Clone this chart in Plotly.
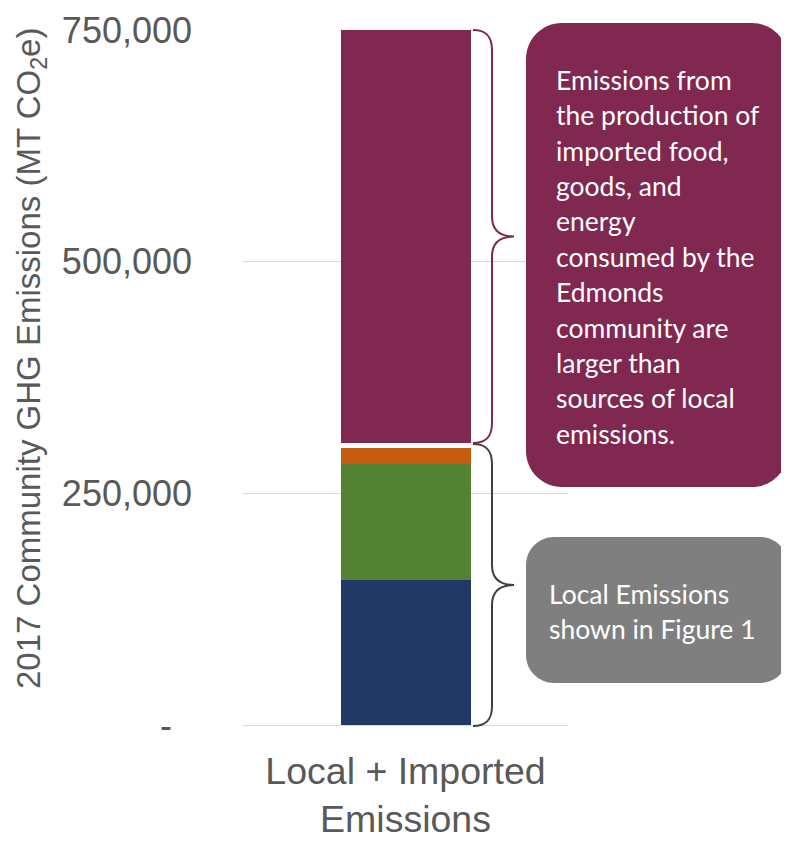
import plotly.graph_objects as go

# ---------------- data ----------------
categories = ["Local + Imported<br>Emissions"]
local_1 = [156500]      # dark blue segment
local_2 = [125000]      # green segment
local_3 = [17500]       # orange segment
separator = [5500]      # white gap between local and imported
imported = [445500]     # imported food, goods & energy
y_tickvals = [0, 250000, 500000, 750000]
y_ticktext = ["-\u00a0\u00a0", "250,000", "500,000", "750,000"]

C_NAVY = "#203864"
C_GREEN = "#548235"
C_ORANGE = "#C55A11"
C_PLUM = "#80284F"
C_GREY = "#7F7F7F"
C_BRACE = "#404040"
C_TEXT = "#595959"
FONT = "Liberation Sans, Arial, sans-serif"

W, H = 789, 842
OFF = 8                              # default page margin around the plot div
PL, PR, PT, PB = 243, 568, 30, 725   # plot area in page pixels


def px(x):
    return (x - PL) / (PR - PL)


def py(y):
    return (PB - y) / (PB - PT)


def P(x, y):
    return f"{px(x):.5f},{py(y):.5f}"


def rrect(x0, y0, x1, y1, r):
    k = 0.5523 * r
    return (f"M {P(x0 + r, y0)} L {P(x1 - r, y0)} "
            f"C {P(x1 - r + k, y0)} {P(x1, y0 + r - k)} {P(x1, y0 + r)} "
            f"L {P(x1, y1 - r)} "
            f"C {P(x1, y1 - r + k)} {P(x1 - r + k, y1)} {P(x1 - r, y1)} "
            f"L {P(x0 + r, y1)} "
            f"C {P(x0 + r - k, y1)} {P(x0, y1 - r + k)} {P(x0, y1 - r)} "
            f"L {P(x0, y0 + r)} "
            f"C {P(x0, y0 + r - k)} {P(x0 + r - k, y0)} {P(x0 + r, y0)} Z")


def brace(top, bottom, xs=473, xl=492, xt=514, r=20):
    tip = (top + bottom) / 2
    return (f"M {P(xs, top)} C {P(xs + 13, top)} {P(xl, top + 6)} {P(xl, top + r)} "
            f"L {P(xl, tip - r)} C {P(xl, tip - 6)} {P(xl + 8, tip)} {P(xt, tip)} "
            f"C {P(xl + 8, tip)} {P(xl, tip + 6)} {P(xl, tip + r)} "
            f"L {P(xl, bottom - r)} C {P(xl, bottom - 6)} {P(xs + 13, bottom)} {P(xs, bottom)}")


fig = go.Figure()
for name, vals, col in [("Local 1", local_1, C_NAVY),
                        ("Local 2", local_2, C_GREEN),
                        ("Local 3", local_3, C_ORANGE),
                        ("gap", separator, "#FFFFFF"),
                        ("Imported", imported, C_PLUM)]:
    fig.add_trace(go.Bar(x=categories, y=vals, name=name, marker_color=col,
                         marker_line_width=0, width=0.4))

fig.update_layout(
    width=W - OFF, height=H - OFF,
    barmode="stack",
    showlegend=False,
    plot_bgcolor="white", paper_bgcolor="white",
    margin=dict(l=PL - OFF, r=W - PR, t=PT - OFF, b=H - PB, autoexpand=False),
    font=dict(family=FONT, color=C_TEXT),
    xaxis=dict(showgrid=False, showline=False, ticks="", ticklabelstandoff=20,
               tickfont=dict(size=37.5, color=C_TEXT, family=FONT)),
    yaxis=dict(range=[0, 750000], tickvals=y_tickvals, ticktext=y_ticktext,
               showgrid=True, gridcolor="#D9D9D9", gridwidth=1.3,
               zeroline=True, zerolinecolor="#D9D9D9", zerolinewidth=1.3,
               showline=False, ticks="", ticklabelstandoff=50,
               tickfont=dict(size=36, color=C_TEXT, family=FONT)),
)

shapes = [
    dict(type="path", xref="paper", yref="paper", path=rrect(526, 23, 788, 487, 36),
         fillcolor=C_PLUM, line_width=0, layer="above"),
    dict(type="path", xref="paper", yref="paper", path=rrect(526, 537, 788, 683, 28),
         fillcolor=C_GREY, line_width=0, layer="above"),
    dict(type="path", xref="paper", yref="paper", path=brace(30, 443),
         line=dict(color=C_PLUM, width=2), fillcolor="rgba(0,0,0,0)"),
    dict(type="path", xref="paper", yref="paper", path=brace(444, 726),
         line=dict(color=C_BRACE, width=2), fillcolor="rgba(0,0,0,0)"),
]
fig.update_layout(shapes=shapes)

purple_text = ("Emissions from<br>the production of<br>imported food,<br>goods, and<br>energy<br>"
               "consumed by the<br>Edmonds<br>community are<br>larger than<br>"
               "sources of local<br>emissions.")
grey_text = "Local Emissions<br>shown in Figure 1"

fig.add_annotation(xref="paper", yref="paper", x=px(31), y=py(359),
                   text="2017 Community GHG Emissions (MT CO<sub>2</sub>e)",
                   textangle=-90, showarrow=False, xanchor="center", yanchor="middle",
                   font=dict(size=33, color=C_TEXT, family=FONT))
fig.add_annotation(xref="paper", yref="paper", x=px(554), y=py(257),
                   text=f"<span style='font-size:26.5px'>{purple_text}</span>",
                   showarrow=False, xanchor="left", yanchor="middle", align="left",
                   font=dict(size=27.2, color="white", family="Lato, sans-serif"))
fig.add_annotation(xref="paper", yref="paper", x=px(547), y=py(611),
                   text=f"<span style='font-size:26.5px'>{grey_text}</span>",
                   showarrow=False, xanchor="left", yanchor="middle", align="left",
                   font=dict(size=27.2, color="white", family="Lato, sans-serif"))

fig.write_html("out.html")
